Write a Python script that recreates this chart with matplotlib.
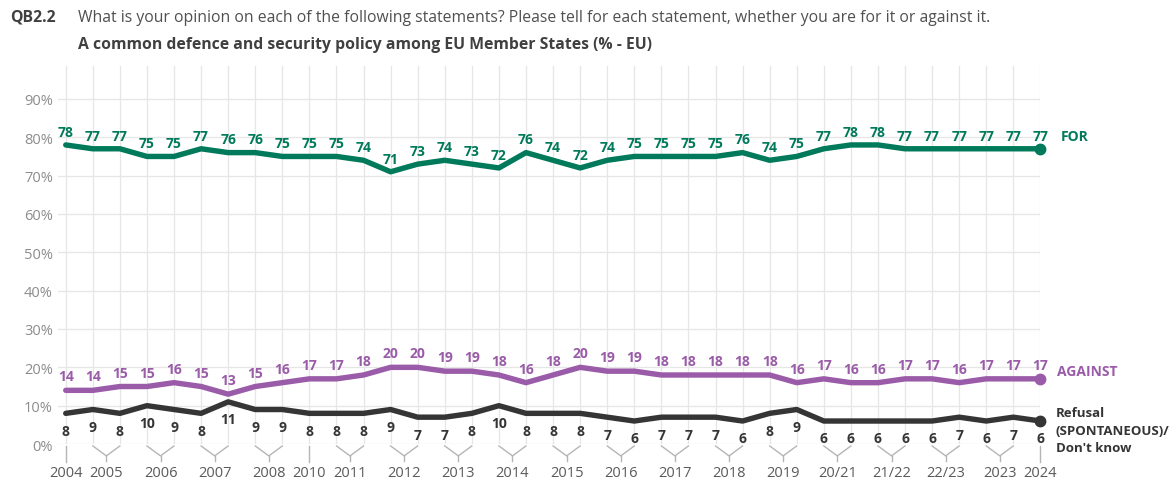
import numpy as np
import matplotlib
matplotlib.use("Agg")
import matplotlib.pyplot as plt

plt.rcParams['font.family'] = ['Open Sans', 'DejaVu Sans']

# survey waves, one entry per point
for_vals = [78, 77, 77, 75, 75, 77, 76, 76, 75, 75, 75, 74, 71, 73, 74, 73, 72, 76, 74,
            72, 74, 75, 75, 75, 75, 76, 74, 75, 77, 78, 78, 77, 77, 77, 77, 77, 77]
against_vals = [14, 14, 15, 15, 16, 15, 13, 15, 16, 17, 17, 18, 20, 20, 19, 19, 18, 16, 18,
                20, 19, 19, 18, 18, 18, 18, 18, 16, 17, 16, 16, 17, 17, 16, 17, 17, 17]
dk_vals = [8, 9, 8, 10, 9, 8, 11, 9, 9, 8, 8, 8, 9, 7, 7, 8, 10, 8, 8,
           8, 7, 6, 7, 7, 7, 6, 8, 9, 6, 6, 6, 6, 6, 7, 6, 7, 6]

# year labels and the wave indices they group
year_labels = ['2004', '2005', '2006', '2007', '2008', '2010', '2011', '2012', '2013', '2014',
               '2015', '2016', '2017', '2018', '2019', '20/21', '21/22', '22/23', '2023', '2024']
year_groups = [[0], [1, 2], [3, 4], [5, 6], [7, 8], [9], [10, 11], [12, 13], [14, 15], [16, 17],
               [18, 19], [20, 21], [22, 23], [24, 25], [26, 27], [28, 29], [30, 31], [32, 33],
               [34, 35], [36]]

GREEN = '#007a5a'
PURPLE = '#9a5ba8'
DARK = '#353535'
GRID = '#e6e6e6'

x = np.arange(len(for_vals))

fig = plt.figure(figsize=(11.76, 4.81), dpi=100)
ax = fig.add_axes([0.049, 0.0748, 0.8357, 0.786])
ax.set_xlim(-0.3, 36.0)
ax.set_ylim(0, 98.6)

ax.set_yticks(np.arange(0, 100, 10))
ax.set_yticklabels([f'{v}%' for v in range(0, 100, 10)], color='#8c8c8c', fontsize=10.5)
ax.set_xticks(x)
ax.set_xticklabels([])
ax.tick_params(length=0, pad=3.5)
ax.grid(True, color=GRID, linewidth=0.9)
ax.set_axisbelow(True)
for s in ax.spines.values():
    s.set_visible(False)

series = [
    (for_vals, GREEN, 9.5),
    (against_vals, PURPLE, 10),
    (dk_vals, DARK, -12.5),
]
for vals, col, off in series:
    ax.plot(x, vals, color=col, linewidth=3.9, solid_joinstyle='round',
            solid_capstyle='round', clip_on=False, zorder=3)
    ax.plot(x[-1], vals[-1], 'o', color=col, markersize=7.5, clip_on=False, zorder=4)
    for xi, v in zip(x, vals):
        ax.annotate(str(v), (xi, v), xytext=(0, off), textcoords='offset points',
                    ha='center', va='center', fontsize=10, fontweight='bold',
                    color=col, annotation_clip=False)

# series names to the right of the last point
ax.annotate('FOR', (x[-1], for_vals[-1]), xytext=(15, 9.5), textcoords='offset points',
            ha='left', va='center', fontsize=10, fontweight='bold', color=GREEN,
            annotation_clip=False)
ax.annotate('AGAINST', (x[-1], against_vals[-1]), xytext=(12, 6), textcoords='offset points',
            ha='left', va='center', fontsize=10, fontweight='bold', color=PURPLE,
            annotation_clip=False)
ax.annotate('Refusal\n(SPONTANEOUS)/\nDon\'t know', (x[-1], dk_vals[-1]), xytext=(11, -6.5),
            textcoords='offset points', ha='left', va='center', fontsize=9.5,
            fontweight='bold', color=DARK, linespacing=1.45, annotation_clip=False)

# category axis: brackets joining the two waves of a year
BR = '#b5b5b5'
for lab, grp in zip(year_labels, year_groups):
    if len(grp) == 1:
        xm = grp[0]
        ax.plot([xm, xm], [-0.5, -4.7], color=BR, linewidth=1, clip_on=False)
    else:
        xa, xb = grp
        xm = (xa + xb) / 2
        ax.plot([xa, xm, xb], [-0.5, -3.1, -0.5], color=BR, linewidth=1, clip_on=False)
        ax.plot([xm, xm], [-3.1, -4.4], color=BR, linewidth=1, clip_on=False)
    ax.text(xm, -7.4, lab, ha='center', va='center', fontsize=10.5, color='#5a5a5a',
            clip_on=False)

fig.text(10 / 1176, 1 - 18 / 481, 'QB2.2', ha='left', va='center', fontsize=11.3,
         fontweight='bold', color='#404040')
fig.text(78 / 1176, 1 - 18 / 481,
         'What is your opinion on each of the following statements? Please tell for each '
         'statement, whether you are for it or against it.',
         ha='left', va='center', fontsize=11.3, color='#505050')
fig.text(78 / 1176, 1 - 45 / 481,
         'A common defence and security policy among EU Member States (% - EU)',
         ha='left', va='center', fontsize=11.3, fontweight='bold', color='#404040')

fig.savefig('out.png', dpi=100, facecolor='white')
